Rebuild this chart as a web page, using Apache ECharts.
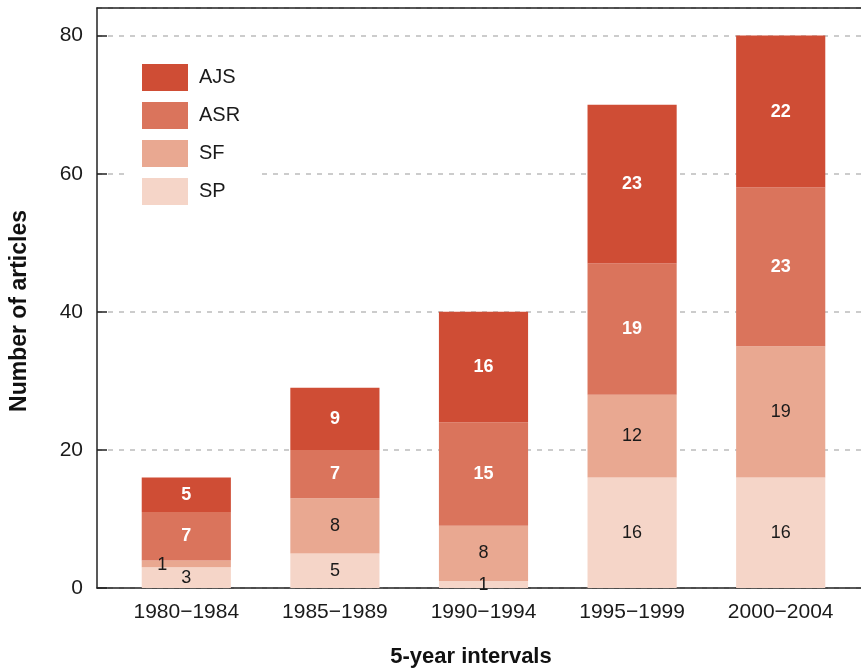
<!DOCTYPE html>
<html>
<head>
<meta charset="utf-8">
<script src="https://cdn.jsdelivr.net/npm/echarts@6/dist/echarts.min.js"></script>
<style>
  html, body { margin: 0; padding: 0; background: #fff; }
  #chart { width: 861px; height: 669px; }
</style>
</head>
<body>
<div id="chart"></div>
<script>
// data
const periods = ['1980\u22121984', '1985\u22121989', '1990\u22121994', '1995\u22121999', '2000\u22122004'];
const sp  = [3, 5, 1, 16, 16];
const sf  = [1, 8, 8, 12, 19];
const asr = [7, 7, 15, 19, 23];
const ajs = [5, 9, 16, 23, 22];
const yTicks = [0, 20, 40, 60, 80];

const colors = { AJS: '#cf4d35', ASR: '#da745c', SF: '#e9a891', SP: '#f5d5c8' };
const font = 'Liberation Sans';
const yMax = 84;   // plot area goes a little above the 80 line

const myChart = echarts.init(document.getElementById('chart'));

function darkLabel() {
  return { show: true, position: 'inside', color: '#1a1a1a', fontSize: 18, fontFamily: font };
}
function whiteLabel() {
  return { show: true, position: 'inside', color: '#fff', fontSize: 18, fontWeight: 'bold', fontFamily: font };
}

// the tiny SF segment in the first bar has its label pushed to the left
const sfData = sf.map(function (v, i) {
  if (i === 0) return { value: v, label: { offset: [-24, 1] } };
  return v;
});

function barSeries(name, data, label) {
  return {
    name: name,
    type: 'bar',
    stack: 'all',
    xAxisIndex: 2,
    yAxisIndex: 1,
    barCategoryGap: '40%',
    itemStyle: { color: colors[name] },
    label: label,
    data: data
  };
}

const option = {
  animation: false,
  backgroundColor: '#fff',
  textStyle: { fontFamily: font },
  grid: [
    { left: 97, right: 0, top: 8, bottom: 81 },   // frame + gridlines
    { left: 112, right: 6, top: 8, bottom: 81 }   // bars
  ],
  xAxis: [
    { type: 'value', gridIndex: 0, min: 0, max: 1, position: 'bottom',
      axisLine: { show: true, lineStyle: { color: '#222', width: 1.5 } },
      axisTick: { show: false }, axisLabel: { show: false }, splitLine: { show: false } },
    { type: 'value', gridIndex: 0, min: 0, max: 1, position: 'top',
      axisLine: { show: true, lineStyle: { color: '#222', width: 1.5 } },
      axisTick: { show: false }, axisLabel: { show: false }, splitLine: { show: false } },
    { type: 'category', gridIndex: 1, data: periods,
      axisLine: { show: false }, axisTick: { show: false },
      axisLabel: { color: '#1a1a1a', fontSize: 21, margin: 14, fontFamily: font } }
  ],
  yAxis: [
    { type: 'value', gridIndex: 0, min: 0, max: yMax, interval: 20,
      axisLine: { show: true, lineStyle: { color: '#222', width: 1.5 } },
      axisTick: { show: true, inside: true, length: 10, lineStyle: { color: '#222', width: 1.5 } },
      axisLabel: { color: '#1a1a1a', fontSize: 21, margin: 14, fontFamily: font, showMaxLabel: false,
        formatter: function (v) { return yTicks.indexOf(v) >= 0 ? String(v) : ''; } },
      splitLine: { show: true, lineStyle: { color: '#cccccc', width: 2, type: [5, 6] } } },
    { type: 'value', gridIndex: 1, min: 0, max: yMax, interval: 20, show: false }
  ],
  legend: {
    data: ['AJS', 'ASR', 'SF', 'SP'],
    orient: 'vertical',
    left: 125,
    top: 47,
    padding: [17, 18, 17, 17],
    backgroundColor: '#fff',
    icon: 'rect',
    itemWidth: 46,
    itemHeight: 27,
    itemGap: 11,
    textStyle: { fontSize: 20, color: '#1a1a1a', fontFamily: font, padding: [0, 0, 0, 6] }
  },
  graphic: [
    { type: 'text', x: 471, y: 657, style: {
        text: '5-year intervals', align: 'center', verticalAlign: 'middle',
        font: 'bold 22px "Liberation Sans"', fill: '#111' } },
    { type: 'text', x: 20, y: 311, rotation: Math.PI / 2, style: {
        text: 'Number of articles', align: 'center', verticalAlign: 'middle',
        font: 'bold 23px "Liberation Sans"', fill: '#111' } }
  ],
  series: [
    barSeries('SP', sp, darkLabel()),
    barSeries('SF', sfData, darkLabel()),
    barSeries('ASR', asr, whiteLabel()),
    barSeries('AJS', ajs, whiteLabel())
  ]
};

myChart.setOption(option);
</script>
</body>
</html>
